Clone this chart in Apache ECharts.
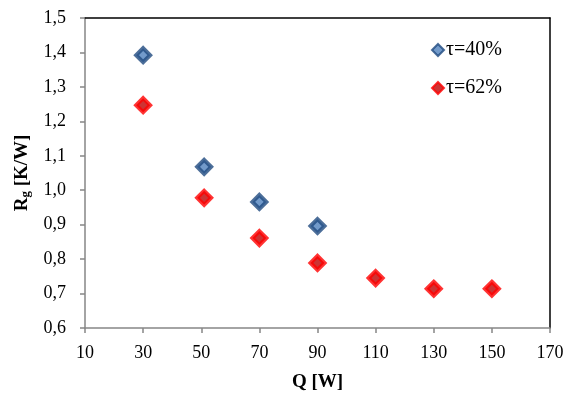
<!DOCTYPE html>
<html>
<head>
<meta charset="utf-8">
<script src="https://cdn.jsdelivr.net/npm/echarts@6/dist/echarts.min.js"></script>
<style>
  html, body { margin: 0; padding: 0; background: #fff; }
  #chart { width: 568px; height: 397px; }
</style>
</head>
<body>
<div id="chart"></div>
<script>
// 数据
const seriesNames = ['τ=40%', 'τ=62%'];
const q40 = [30, 51, 70, 90];
const r40 = [1.392, 1.068, 0.966, 0.896];
const q62 = [30, 51, 70, 90, 110, 130, 150];
const r62 = [1.247, 0.978, 0.861, 0.789, 0.745, 0.714, 0.714];
const xTicks = [10, 30, 50, 70, 90, 110, 130, 150, 170];
const yTicks = [0.6, 0.7, 0.8, 0.9, 1.0, 1.1, 1.2, 1.3, 1.4, 1.5];

const font = 'Liberation Serif';
const pairs = (xs, ys) => xs.map((x, i) => [x, ys[i]]);

const chart = echarts.init(document.getElementById('chart'));

const option = {
    backgroundColor: '#ffffff',
    animation: false,
    textStyle: { fontFamily: font },
    grid: { left: 85, right: 18, top: 18, bottom: 69 },
    legend: {
        orient: 'vertical',
        left: 426,
        top: 35,
        itemWidth: 12,
        itemHeight: 12,
        itemGap: 18,
        data: seriesNames,
        textStyle: { fontFamily: font, fontSize: 20, color: '#000', padding: [0, 0, 0, -3] }
    },
    xAxis: [
        {
            type: 'value',
            min: xTicks[0],
            max: xTicks[xTicks.length - 1],
            interval: 20,
            name: 'Q [W]',
            nameLocation: 'middle',
            nameGap: 45,
            nameTextStyle: { fontFamily: font, fontSize: 19, fontWeight: 'bold', color: '#000' },
            axisLine: { show: true, lineStyle: { color: '#868686', width: 1.5 } },
            axisTick: { show: true, length: 5, lineStyle: { color: '#868686', width: 1.5 } },
            axisLabel: { fontFamily: font, fontSize: 18, color: '#000', margin: 16 },
            splitLine: { show: false }
        },
        {
            type: 'value',
            position: 'top',
            min: xTicks[0],
            max: xTicks[xTicks.length - 1],
            axisLine: { show: true, lineStyle: { color: '#000', width: 1.5 } },
            axisTick: { show: false },
            axisLabel: { show: false },
            splitLine: { show: false }
        }
    ],
    yAxis: [
        {
            type: 'value',
            min: yTicks[0],
            max: yTicks[yTicks.length - 1],
            interval: 0.1,
            name: '{b|R}{s|g}{b| [K/W]}',
            nameLocation: 'middle',
            nameGap: 51,
            nameRotate: 90,
            nameTextStyle: {
                color: '#000',
                rich: {
                    b: { fontFamily: font, fontSize: 19, fontWeight: 'bold', color: '#000' },
                    s: { fontFamily: font, fontSize: 13, fontWeight: 'bold', color: '#000', verticalAlign: 'bottom', padding: [9, 0, 0, 0] }
                }
            },
            axisLine: { show: true, lineStyle: { color: '#868686', width: 1.5 } },
            axisTick: { show: true, length: 5, lineStyle: { color: '#868686', width: 1.5 } },
            axisLabel: {
                fontFamily: font,
                fontSize: 18,
                color: '#000',
                margin: 19,
                formatter: v => v.toFixed(1).replace('.', ',')
            },
            splitLine: { show: false }
        },
        {
            type: 'value',
            position: 'right',
            min: yTicks[0],
            max: yTicks[yTicks.length - 1],
            axisLine: { show: true, lineStyle: { color: '#000', width: 1.5 } },
            axisTick: { show: false },
            axisLabel: { show: false },
            splitLine: { show: false }
        }
    ],
    series: [
        {
            name: seriesNames[0],
            type: 'scatter',
            symbol: 'diamond',
            symbolSize: 14,
            data: pairs(q40, r40),
            itemStyle: { color: '#4F81BD', borderColor: '#1F4A80', borderWidth: 4 }
        },
        {
            name: seriesNames[1],
            type: 'scatter',
            symbol: 'diamond',
            symbolSize: 14,
            data: pairs(q62, r62),
            itemStyle: { color: '#C00000', borderColor: '#FF0000', borderWidth: 4 }
        }
    ]
};

chart.setOption(option);
</script>
</body>
</html>
